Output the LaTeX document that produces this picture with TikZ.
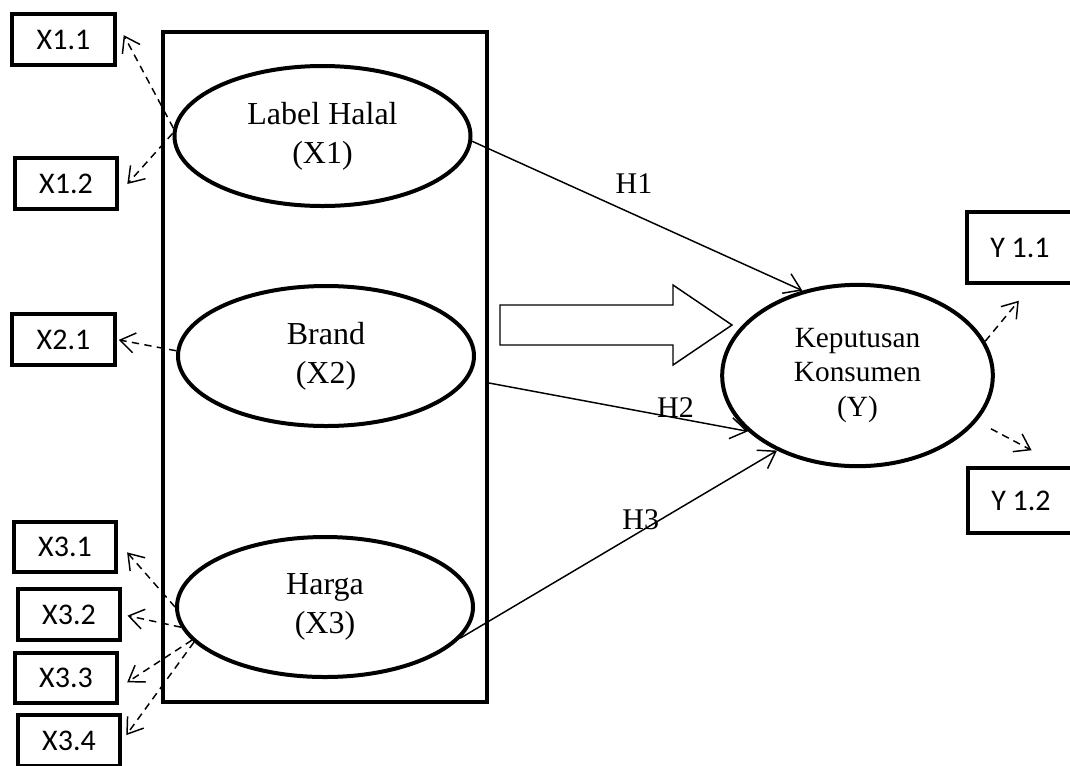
\documentclass[tikz,border=0pt]{standalone}
\usepackage{fontspec}
\setmainfont{Liberation Serif}
\newfontfamily\boxfont{Carlito}
\usetikzlibrary{calc, shapes.geometric, arrows.meta}

\tikzset{
  indi/.style={draw, line width=3pt, inner sep=0pt, minimum width=77pt, minimum height=38pt,
    font=\boxfont\fontsize{22.5}{26}\selectfont},
  latent/.style={draw, ellipse, line width=3pt, inner sep=0pt, align=center,
    minimum width=222pt, minimum height=105pt, font=\fontsize{24}{29}\selectfont},
  load/.style={line width=1.1pt, dash pattern=on 5.5pt off 4pt,
    -{Straight Barb[length=11pt, width=15pt]}},
  hyp/.style={line width=1.1pt, -{Straight Barb[length=12pt, width=16pt]}},
  hlab/.style={font=\fontsize{22.5}{26}\selectfont, inner sep=0pt}
}

\begin{document}
\begin{tikzpicture}[x=0.75pt, y=-0.75pt]
    \useasboundingbox (0,0) rectangle (1070,765);

    % frame round the independent variables
    \node[draw, line width=3pt, minimum width=243pt, minimum height=502.5pt] (panel) at (325,367) {};

    \node[latent] (lh) at (322.5,136) {Label Halal\\(X1)};
    \node[latent] (br) at (326,356) {Brand\\(X2)};
    \node[latent] (hg) at (325,607) {Harga\\(X3)};
    \node[latent, minimum width=203pt, minimum height=136pt, font=\fontsize{22}{26}\selectfont]
        (kk) at (857.5,375.5) {Keputusan\\Konsumen\\(Y)};

    % indicators
    \node[indi] (x11) at (63.5,39.5) {X1.1};
    \node[indi] (x12) at (66,183.5) {X1.2};
    \node[indi] (x21) at (63.5,339.5) {X2.1};
    \node[indi] (x31) at (65,547) {X3.1};
    \node[indi] (x32) at (69,614.5) {X3.2};
    \node[indi] (x33) at (66,678) {X3.3};
    \node[indi] (x34) at (69,740.5) {X3.4};
    \node[indi, minimum width=79.5pt, minimum height=53pt] (y11) at (1020,247.5) {Y 1.1};
    \node[indi, minimum width=79.5pt, minimum height=49pt] (y12) at (1021,500.5) {Y 1.2};

    \draw[load, shorten >=11pt] (lh.177) -- (x11.18);
    \draw[load, shorten >=9pt] (lh.179) -- (x12.-10);
    \draw[load, shorten >=1.5pt] (br.178) -- (x21.east);
    \draw[load, shorten >=10pt] (hg.180) -- (x31.5);
    \draw[load, shorten >=4pt] (hg.188) -- (x32.east);
    \draw[load, shorten >=7pt] (hg.194) -- (x33.-10);
    \draw[load, shorten >=5pt] (hg.195) -- (x34.east);
    \draw[load, shorten >=15.5pt] (kk.15) -- ($(y11.south)+(12,0)$);
    \draw[load, shorten <=12pt, shorten >=25pt] (kk.-21) -- ($(y12.north)+(40,0)$);

    % hypotheses
    \draw[hyp] (lh.358) -- node[hlab, pos=.49, yshift=23pt] (h1) {H1} (kk.123);
    \draw[hyp] ($(panel.east)+(0,16)$) -- node[hlab, pos=.72, yshift=8pt] (h2) {H2} (kk.207);
    \draw[hyp] (hg.347) -- node[hlab, pos=.57, yshift=9pt] (h3) {H3} (kk.223);

    % simultaneous effect
    \draw[line width=1.1pt] (500,305) -- (673,305) -- (673,285) -- (732,325)
        -- (673,365) -- (673,345) -- (500,345) -- cycle;
\end{tikzpicture}
\end{document}
